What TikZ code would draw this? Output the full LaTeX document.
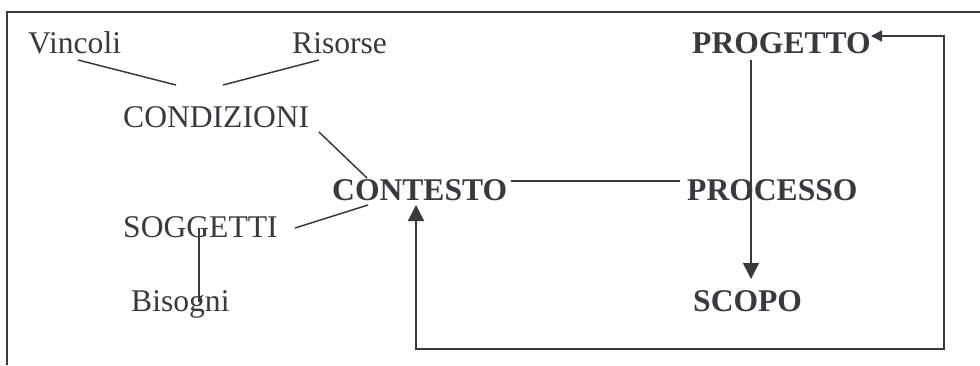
\documentclass[tikz,border=0pt]{standalone}
\usepackage{fontspec}
\setmainfont{Liberation Serif}
\usetikzlibrary{arrows.meta}
\definecolor{ink}{RGB}{58,58,62}
\begin{document}
\begin{tikzpicture}[x=1pt,y=-1pt,
  lbl/.style={anchor=base west,inner sep=0pt,text=ink,font=\fontsize{31.6}{38}\selectfont},
  blbl/.style={lbl,font=\fontsize{31.6}{38}\selectfont\bfseries},
  conn/.style={draw=ink,line width=1.5pt},
  arr/.style={conn,-{Triangle[length=16pt,width=16pt]}},
  darr/.style={conn,{Triangle[length=16pt,width=16pt]}-{Triangle[length=11pt,width=11pt]}}]
\useasboundingbox (0,0) rectangle (980,365);
\draw[ink,line width=2pt] (7,365) -- (7,12) -- (980,12);
\node[lbl] (vinc) at (28,53) {Vincoli};
\node[lbl] (ris) at (292,53) {Risorse};
\node[lbl] (cond) at (123,127) {CONDIZIONI};
\node[blbl] (cont) at (332,200) {CONTESTO};
\node[lbl] (sogg) at (123,237) {SOGGETTI};
\node[lbl] (bis) at (131,311) {Bisogni};
\node[blbl] (prog) at (692,53) {PROGETTO};
\node[blbl] (proc) at (687,200) {PROCESSO};
\node[blbl] (scopo) at (693,311) {SCOPO};
\coordinate (c1) at (944,349);
\draw[conn] ([shift={(50,7)}]vinc.base west) -- ([shift={(53,-42)}]cond.base west);
\draw[conn] ([shift={(27,7)}]ris.base west) -- ([shift={(100,-42)}]cond.base west);
\draw[conn] ([shift={(196,5)}]cond.base west) -- ([shift={(35,-22)}]cont.base west);
\draw[conn] ([shift={(172,-9)}]sogg.base west) -- ([shift={(36,5)}]cont.base west);
\draw[draw=ink,line width=1.2pt] ([shift={(76,-9)}]sogg.base west) -- ([shift={(68,-9)}]bis.base west);
\draw[conn] ([shift={(179,-19)}]cont.base west) -- ([shift={(-7,-19)}]proc.base west);
\draw[arr] ([shift={(59,7)}]prog.base west) -- ([shift={(58,-32)}]scopo.base west);
\draw[darr] ([shift={(84,5)}]cont.base west) |- (c1) |- ([shift={(179,-17)}]prog.base west);
\end{tikzpicture}
\end{document}
